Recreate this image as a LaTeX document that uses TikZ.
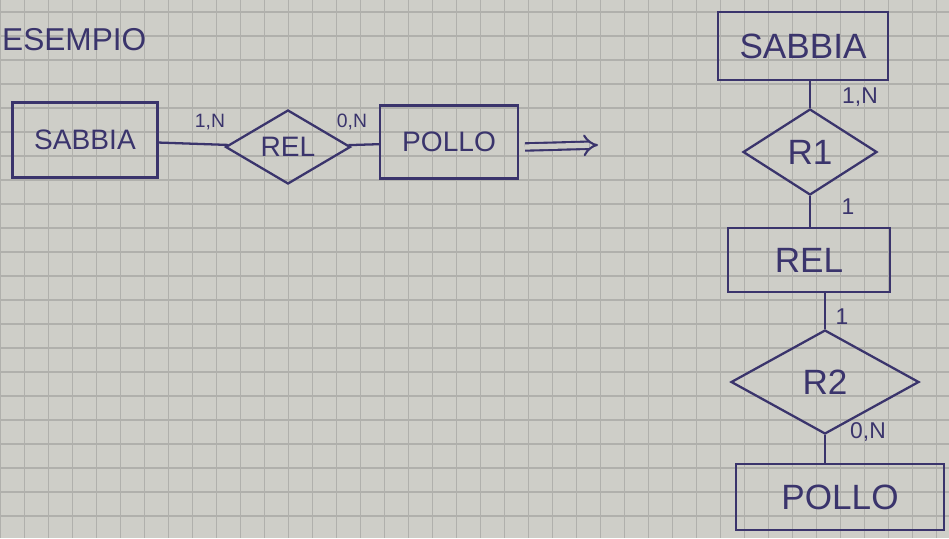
\documentclass[tikz,border=0pt]{standalone}
\usepackage{fontspec}
\setmainfont{Liberation Sans}
\definecolor{ink}{RGB}{58,52,108}
\definecolor{paper}{RGB}{206,206,200}
\definecolor{rule}{RGB}{176,176,172}
\usetikzlibrary{arrows.meta,shapes.geometric}
\tikzset{
  entity/.style={draw=ink, line width=1.3pt, text=ink, inner sep=0pt,
                 font=\fontsize{16}{18}\selectfont},
  rel/.style={diamond, draw=ink, line width=1.3pt, text=ink, inner sep=0pt,
              font=\fontsize{16}{18}\selectfont},
  card/.style={text=ink, font=\fontsize{11}{13}\selectfont},
  link/.style={ink, line width=1.3pt},
  implies/.style={ink, line width=1.2pt, double=paper, double distance=3pt, -{Implies[length=4mm]}},
}

\begin{document}
\begin{tikzpicture}[x=0.02cm, y=-0.02cm]
    \useasboundingbox (0,0) rectangle (949,538);
    \fill[paper] (0,0) rectangle (949,538);
    \foreach \gx in {0.7,24.7,...,949} \draw[rule, line width=0.7pt] (\gx,0) -- (\gx,538);
    \foreach \gy in {12,36,...,538} \draw[rule, line width=0.7pt] (0,\gy) -- (949,\gy);

    \node[card, anchor=west, font=\fontsize{18}{20}\selectfont] (title) at (-4,40) {ESEMPIO};

    % left: binary relationship
    \node[entity, minimum width=2.9cm, minimum height=1.5cm] (sab1) at (85,140) {SABBIA};
    \node[rel, minimum width=2.5cm, minimum height=1.4cm] (rel1) at (288,147) {REL};
    \node[entity, minimum width=2.76cm, minimum height=1.46cm] (pol1) at (449,142) {POLLO};
    \draw[link] (sab1) -- (rel1); \draw[link] (rel1) -- (pol1);
    \node[card] (c1) at (210,122) {1,N};
    \node[card] (c2) at (352,122) {0,N};

    \coordinate (arrS) at (525,147); \coordinate (arrE) at (598,145);
    \draw[implies] (arrS) -- (arrE);

    % right: relationship turned into entity
    \node[entity, font=\fontsize{20}{22}\selectfont, minimum width=3.4cm, minimum height=1.36cm] (sab2) at (803,46) {SABBIA};
    \node[rel, font=\fontsize{20}{22}\selectfont, minimum width=2.68cm, minimum height=1.72cm] (r1) at (810,152) {R1};
    \node[entity, font=\fontsize{20}{22}\selectfont, minimum width=3.24cm, minimum height=1.28cm] (rel2) at (809,260) {REL};
    \node[rel, font=\fontsize{20}{22}\selectfont, minimum width=3.76cm, minimum height=2.08cm] (r2) at (825,382) {R2};
    \node[entity, font=\fontsize{20}{22}\selectfont, minimum width=4.16cm, minimum height=1.32cm] (pol2) at (840,497) {POLLO};
    \draw[link] (r1.north |- sab2.south) -- (r1.north);
    \draw[link] (r1.south) -- (r1.south |- rel2.north);
    \draw[link] (rel2.south -| r2.north) -- (r2.north);
    \draw[link] (r2.south) -- (r2.south |- pol2.north);
    \node[card, font=\fontsize{13}{15}\selectfont] (c3) at (860,97) {1,N};
    \node[card, font=\fontsize{13}{15}\selectfont] (c4) at (848,207) {1};
    \node[card, font=\fontsize{13}{15}\selectfont] (c5) at (842,317) {1};
    \node[card, font=\fontsize{13}{15}\selectfont] (c6) at (868,432) {0,N};
  \end{tikzpicture}
\end{document}
